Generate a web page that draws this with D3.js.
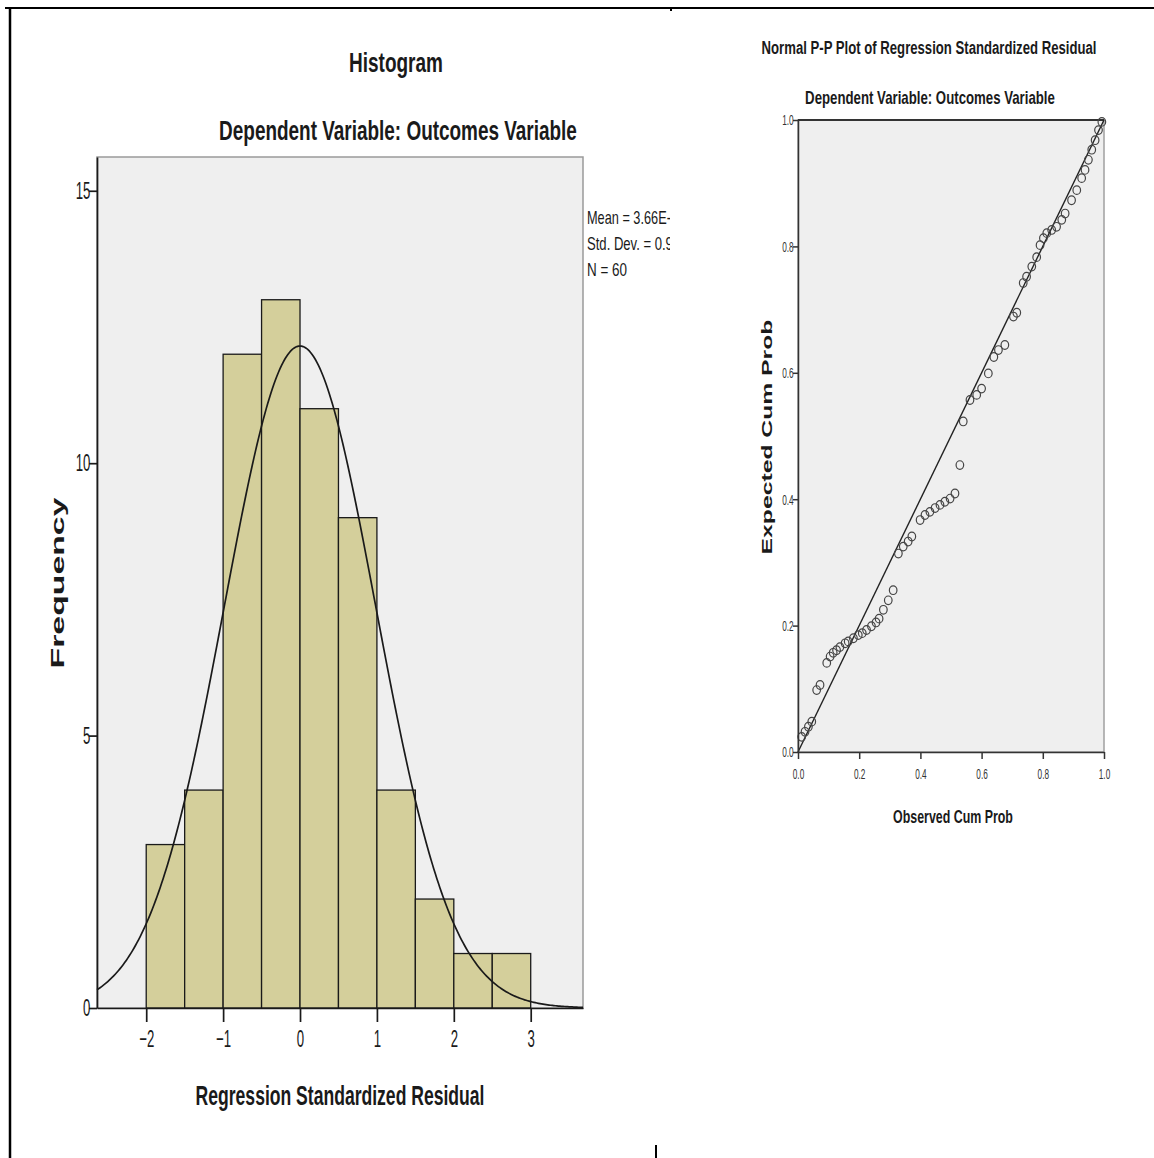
<!DOCTYPE html>
<html>
<head>
<meta charset="utf-8">
<script src="https://d3js.org/d3.v7.min.js"></script>
<style>
	body { margin: 0; background: #fff; }
	text { font-family: "Liberation Sans", Arial, sans-serif; fill: #1a1a1a; }
</style>
</head>
<body>
<script>
"use strict";

//histogram bins (lower edge) and counts
var binStarts = [-2, -1.5, -1, -0.5, 0, 0.5, 1, 1.5, 2, 2.5];
var binCounts = [3, 4, 12, 13, 11, 9, 4, 2, 1, 1];
var binWidth = 0.5;
var histYTicks = [0, 5, 10, 15];
var histXTicks = [-2, -1, 0, 1, 2, 3];
var residMean = 0;
var residSd = 0.985;
var residN = 60;
var legendLines = ["Mean = 3.66E-", "Std. Dev. = 0.9", "N = 60"];

//P-P plot points
var ppObserved = [0.012, 0.023, 0.034, 0.045, 0.061, 0.072, 0.094, 0.105, 0.115, 0.126,
	0.137, 0.154, 0.164, 0.181, 0.197, 0.210, 0.224, 0.240, 0.255, 0.265,
	0.279, 0.295, 0.311, 0.328, 0.344, 0.360, 0.372, 0.399, 0.415, 0.431,
	0.448, 0.464, 0.480, 0.497, 0.513, 0.529, 0.540, 0.562, 0.584, 0.600,
	0.622, 0.640, 0.655, 0.676, 0.704, 0.715, 0.736, 0.747, 0.764, 0.780,
	0.791, 0.802, 0.813, 0.829, 0.845, 0.862, 0.873, 0.894, 0.911, 0.927,
	0.938, 0.949, 0.960, 0.971, 0.982, 0.993];
var ppExpected = [0.024, 0.032, 0.040, 0.048, 0.098, 0.106, 0.141, 0.151, 0.157, 0.161,
	0.166, 0.172, 0.175, 0.180, 0.185, 0.188, 0.193, 0.199, 0.205, 0.211,
	0.225, 0.240, 0.256, 0.314, 0.325, 0.333, 0.341, 0.367, 0.375, 0.380,
	0.386, 0.391, 0.396, 0.401, 0.409, 0.454, 0.523, 0.557, 0.565, 0.575,
	0.599, 0.625, 0.636, 0.644, 0.689, 0.695, 0.742, 0.752, 0.768, 0.783,
	0.802, 0.813, 0.821, 0.826, 0.831, 0.842, 0.852, 0.873, 0.889, 0.908,
	0.921, 0.937, 0.953, 0.968, 0.984, 0.997];
var ppTicks = [0, 0.2, 0.4, 0.6, 0.8, 1.0];

var svg = d3.select("body").append("svg")
	.attr("width", 1154)
	.attr("height", 1158);

//the page frame the two pictures sit in
svg.append("line").attr("x1", 5).attr("y1", 8).attr("x2", 1154).attr("y2", 8)
	.style("stroke", "#000").style("stroke-width", "2px");
svg.append("line").attr("x1", 10).attr("y1", 7).attr("x2", 10).attr("y2", 1158)
	.style("stroke", "#000").style("stroke-width", "2.5px");
svg.append("line").attr("x1", 671).attr("y1", 8).attr("x2", 671).attr("y2", 11)
	.style("stroke", "#000").style("stroke-width", "2px");
svg.append("line").attr("x1", 656).attr("y1", 1145).attr("x2", 656).attr("y2", 1158)
	.style("stroke", "#000").style("stroke-width", "2px");

//squeezed label, the source pictures are narrowed horizontally.
//text is drawn at its natural size and then scaled to the wanted length
function label(g, str, x, y, size, len, opts){
	opts = opts || {};
	var t = g.append("text")
		.attr("x", 0)
		.attr("y", 0)
		.attr("dy", "0.36em")
		.attr("text-anchor", opts.anchor || "middle")
		.style("font-size", size + "px")
		.style("font-weight", opts.bold ? "bold" : "normal")
		.text(str);
	var sx = len / t.node().getComputedTextLength();
	var tr = "translate(" + x + "," + y + ")";
	if(opts.rotate) tr += " rotate(-90)";
	t.attr("transform", tr + " scale(" + sx + ",1)");
	return t;
}

// ---------- histogram ----------
var hist = svg.append("g");
var hx = d3.scaleLinear().domain([-2.64, 3.68]).range([97, 583]);
var hy = d3.scaleLinear().domain([0, 15.62]).range([1008, 157]);

hist.append("rect")
	.attr("x", hx.range()[0]).attr("y", hy.range()[1])
	.attr("width", hx.range()[1] - hx.range()[0])
	.attr("height", hy.range()[0] - hy.range()[1])
	.style("fill", "#efefef")
	.style("stroke", "#9a9a9a")
	.style("stroke-width", "1.5px");

hist.selectAll(".bar")
	.data(binStarts)
	.enter()
	.append("rect")
	.attr("class", "bar")
	.attr("x", function(d){ return hx(d)})
	.attr("y", function(d, i){ return hy(binCounts[i])})
	.attr("width", function(d){ return hx(d + binWidth) - hx(d)})
	.attr("height", function(d, i){ return hy(0) - hy(binCounts[i])})
	.style("fill", "#d4cf9b")
	.style("stroke", "#1a1a1a")
	.style("stroke-width", "1.3px");

//fitted normal curve, scaled to counts
var curveXs = d3.range(hx.domain()[0], hx.domain()[1] + 0.001, 0.02);
var peak = residN * binWidth / (residSd * Math.sqrt(2 * Math.PI));
hist.append("path")
	.datum(curveXs)
	.attr("d", d3.line()
		.x(function(d){ return hx(d)})
		.y(function(d){ var z = (d - residMean) / residSd; return hy(peak * Math.exp(-z * z / 2))}))
	.style("fill", "none")
	.style("stroke", "#1a1a1a")
	.style("stroke-width", "1.7px");

var hyAxis = hist.append("g")
	.attr("transform", "translate(97,0)")
	.call(d3.axisLeft(hy).tickValues(histYTicks).tickFormat(d3.format("d")).tickSize(8).tickSizeOuter(0).tickPadding(4));
var hxAxis = hist.append("g")
	.attr("transform", "translate(0,1008)")
	.call(d3.axisBottom(hx).tickValues(histXTicks).tickFormat(d3.format("d")).tickSize(14).tickSizeOuter(0).tickPadding(8));
[hyAxis, hxAxis].forEach(function(a){
	a.selectAll("path, line").style("stroke", "#1a1a1a").style("stroke-width", "1.7px");
	a.selectAll("text").style("font-size", "24px").style("font-family", "Liberation Sans").style("fill", "#1a1a1a");
});
hyAxis.selectAll("text").attr("transform", "scale(0.55,1)");
hxAxis.selectAll("text").attr("transform", "scale(0.55,1)");

label(svg, "Histogram", 396, 62, 28, 94, {bold: true});
label(svg, "Dependent Variable: Outcomes Variable", 398, 130, 28, 358, {bold: true});
label(svg, "Regression Standardized Residual", 340, 1095, 28, 289, {bold: true});
label(svg, "Frequency", 57, 583, 19, 171, {bold: true, rotate: true});

//legend, cut off by the edge of the source picture
svg.append("clipPath").attr("id", "legendClip")
	.append("rect").attr("x", 580).attr("y", 190).attr("width", 90).attr("height", 100);
var legend = svg.append("g").attr("clip-path", "url(#legendClip)");
var legendLens = [84, 86, 40];
legendLines.forEach(function(s, i){
	label(legend, s, 587, 218 + i * 26, 18, legendLens[i], {anchor: "start"});
});

// ---------- normal P-P plot ----------
var pp = svg.append("g");
var px = d3.scaleLinear().domain([0, 1]).range([798, 1104]);
var py = d3.scaleLinear().domain([0, 1]).range([752, 120]);

pp.append("rect")
	.attr("x", 798).attr("y", 120)
	.attr("width", px(1) - px(0))
	.attr("height", py(0) - py(1))
	.style("fill", "#efefef")
	.style("stroke", "#a0a0a0")
	.style("stroke-width", "1.5px");
pp.append("line")
	.attr("x1", px(0)).attr("y1", py(1)).attr("x2", px(1)).attr("y2", py(1))
	.style("stroke", "#333").style("stroke-width", "2px");

//reference diagonal
pp.append("line")
	.attr("x1", px(0)).attr("y1", py(0)).attr("x2", px(1)).attr("y2", py(1))
	.style("stroke", "#222").style("stroke-width", "1.4px");

pp.selectAll(".pt")
	.data(ppObserved)
	.enter()
	.append("ellipse")
	.attr("class", "pt")
	.attr("cx", function(d){ return px(d)})
	.attr("cy", function(d, i){ return py(ppExpected[i])})
	.attr("rx", 3.8)
	.attr("ry", 4.3)
	.style("fill", "none")
	.style("stroke", "#444")
	.style("stroke-width", "1.2px");

var pyAxis = pp.append("g")
	.attr("transform", "translate(798,0)")
	.call(d3.axisLeft(py).tickValues(ppTicks).tickFormat(d3.format(".1f")).tickSize(5).tickSizeOuter(0).tickPadding(3));
var pxAxis = pp.append("g")
	.attr("transform", "translate(0,752)")
	.call(d3.axisBottom(px).tickValues(ppTicks).tickFormat(d3.format(".1f")).tickSize(7).tickSizeOuter(0).tickPadding(9));
[pyAxis, pxAxis].forEach(function(a){
	a.selectAll("path, line").style("stroke", "#333").style("stroke-width", "1.5px");
	a.selectAll("text").style("font-size", "15px").style("font-family", "Liberation Sans").style("fill", "#333");
});
pyAxis.selectAll("text").attr("transform", "scale(0.55,1)");
pxAxis.selectAll("text").attr("transform", "scale(0.55,1)");

label(svg, "Normal P-P Plot of Regression Standardized Residual", 929, 47, 19, 335, {bold: true});
label(svg, "Dependent Variable: Outcomes Variable", 930, 98, 18, 250, {bold: true});
label(svg, "Observed Cum Prob", 953, 817, 18, 120, {bold: true});
label(svg, "Expected Cum Prob", 767, 437, 15, 235, {bold: true, rotate: true});
</script>
</body>
</html>
